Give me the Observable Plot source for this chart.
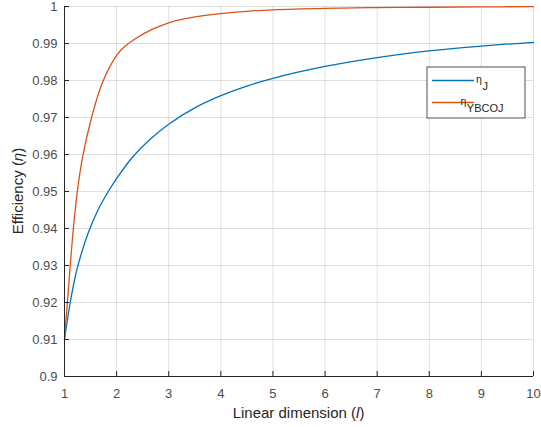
<!DOCTYPE html>
<html>
<head>
<meta charset="utf-8">
<script src="https://cdn.jsdelivr.net/npm/d3@7"></script>
<script src="https://cdn.jsdelivr.net/npm/@observablehq/plot@0.6"></script>
<style>
  html, body { margin: 0; padding: 0; background: #fff; }
  #chart { width: 541px; height: 427px; }
  #chart svg { overflow: visible; }
</style>
</head>
<body>
<div id="chart"></div>
<script>
// Efficiency versus linear dimension l, for the two junction types
const lengthJ = [1.00, 1.11, 1.24, 1.46, 1.65, 1.84, 2.00, 2.30, 2.65, 3.00, 3.50, 4.00, 4.50, 5.00, 6.00, 7.00, 8.00, 9.00, 10.00];
const etaJ    = [0.9100, 0.9200, 0.9290, 0.9390, 0.9452, 0.9500, 0.9535, 0.9592, 0.9642, 0.9682, 0.9726, 0.9759, 0.9785, 0.9806, 0.9838, 0.9862, 0.9880, 0.9893, 0.9903];

const lengthYBCOJ = [1.00, 1.055, 1.11, 1.17, 1.25, 1.35, 1.52, 1.73, 2.00, 2.165, 2.36, 2.68, 3.00, 3.32, 3.60, 4.00, 4.50, 5.00, 6.00, 7.00, 8.00, 9.00, 10.00];
const etaYBCOJ    = [0.910, 0.920, 0.930, 0.940, 0.9505, 0.9595, 0.9700, 0.9795, 0.9868, 0.9893, 0.9913, 0.9938, 0.9956, 0.9967, 0.9974, 0.9981, 0.9987, 0.9991, 0.9995, 0.9997, 0.9998, 0.9999, 0.99995];

const seriesNames  = ["J", "YBCOJ"];
const seriesColors = ["#0072BD", "#D95319"];

const xTicks = [1, 2, 3, 4, 5, 6, 7, 8, 9, 10];
const yTicks = [0.9, 0.91, 0.92, 0.93, 0.94, 0.95, 0.96, 0.97, 0.98, 0.99, 1];

const rows = [
  ...lengthJ.map((l, i) => ({series: "J", l, eta: etaJ[i]})),
  ...lengthYBCOJ.map((l, i) => ({series: "YBCOJ", l, eta: etaYBCOJ[i]}))
];

const axisColor = "#262626";
const font = "'Liberation Sans', Arial, Helvetica, sans-serif";

const chart = Plot.plot({
  width: 541,
  height: 427,
  marginLeft: 64,
  marginRight: 8,
  marginTop: 6,
  marginBottom: 51,
  style: {fontFamily: font, fontSize: "13px", color: "#4d4d4d", background: "#fff", overflow: "visible"},
  x: {domain: [1, 10]},
  y: {domain: [0.9, 1]},
  color: {domain: seriesNames, range: seriesColors},
  marks: [
    Plot.gridX(xTicks, {stroke: "#000", strokeOpacity: 0.12}),
    Plot.gridY(yTicks, {stroke: "#000", strokeOpacity: 0.12}),
    Plot.line(rows, {x: "l", y: "eta", stroke: "series", z: "series", curve: "catmull-rom", strokeWidth: 1.3}),
    Plot.ruleX([1], {stroke: axisColor}),
    Plot.ruleY([0.9], {stroke: axisColor}),
    Plot.axisX(xTicks, {tickSize: -5, tickPadding: 17, tickFormat: d => String(d), label: null, stroke: axisColor}),
    Plot.axisY(yTicks, {tickSize: -5, tickPadding: 12, tickFormat: d => String(d), label: null, stroke: axisColor})
  ]
});

document.getElementById("chart").appendChild(chart);

// Axis titles and legend, placed from the chart's own scales
const sx = chart.scale("x"), sy = chart.scale("y");
const svg = d3.select(chart);
const frameLeft = sx.apply(1), frameRight = sx.apply(10);
const frameTop = sy.apply(1), frameBottom = sy.apply(0.9);

const xt = svg.append("text")
  .attr("x", (frameLeft + frameRight) / 2).attr("y", frameBottom + 42)
  .attr("text-anchor", "middle")
  .attr("font-family", font).attr("font-size", 15).attr("fill", axisColor);
xt.append("tspan").text("Linear dimension (");
xt.append("tspan").attr("font-style", "italic").text("l");
xt.append("tspan").text(")");

const yt = svg.append("text")
  .attr("transform", `translate(23,${(frameTop + frameBottom) / 2}) rotate(-90)`)
  .attr("text-anchor", "middle")
  .attr("font-family", font).attr("font-size", 15).attr("fill", axisColor);
yt.append("tspan").text("Efficiency (");
yt.append("tspan").attr("font-style", "italic").text("η");
yt.append("tspan").text(")");

const legendW = 98, legendH = 51;
const lg = svg.append("g")
  .attr("transform", `translate(${frameRight - 8 - legendW},${frameTop + 61})`)
  .attr("font-family", font).attr("fill", axisColor);
lg.append("rect")
  .attr("width", legendW).attr("height", legendH)
  .attr("fill", "#fff").attr("stroke", axisColor).attr("stroke-width", 0.8);
seriesNames.forEach((name, i) => {
  const yy = 13.5 + i * 22;
  lg.append("line")
    .attr("x1", 5).attr("x2", 47).attr("y1", yy).attr("y2", yy)
    .attr("stroke", seriesColors[i]).attr("stroke-width", 1.3);
  const t = lg.append("text").attr("x", 55).attr("y", yy + 2.5);
  t.append("tspan").attr("font-size", 10.5).text("η");
  t.append("tspan").attr("font-size", 11).attr("dx", 0.5).attr("dy", 7).text(name);
});
</script>
</body>
</html>
